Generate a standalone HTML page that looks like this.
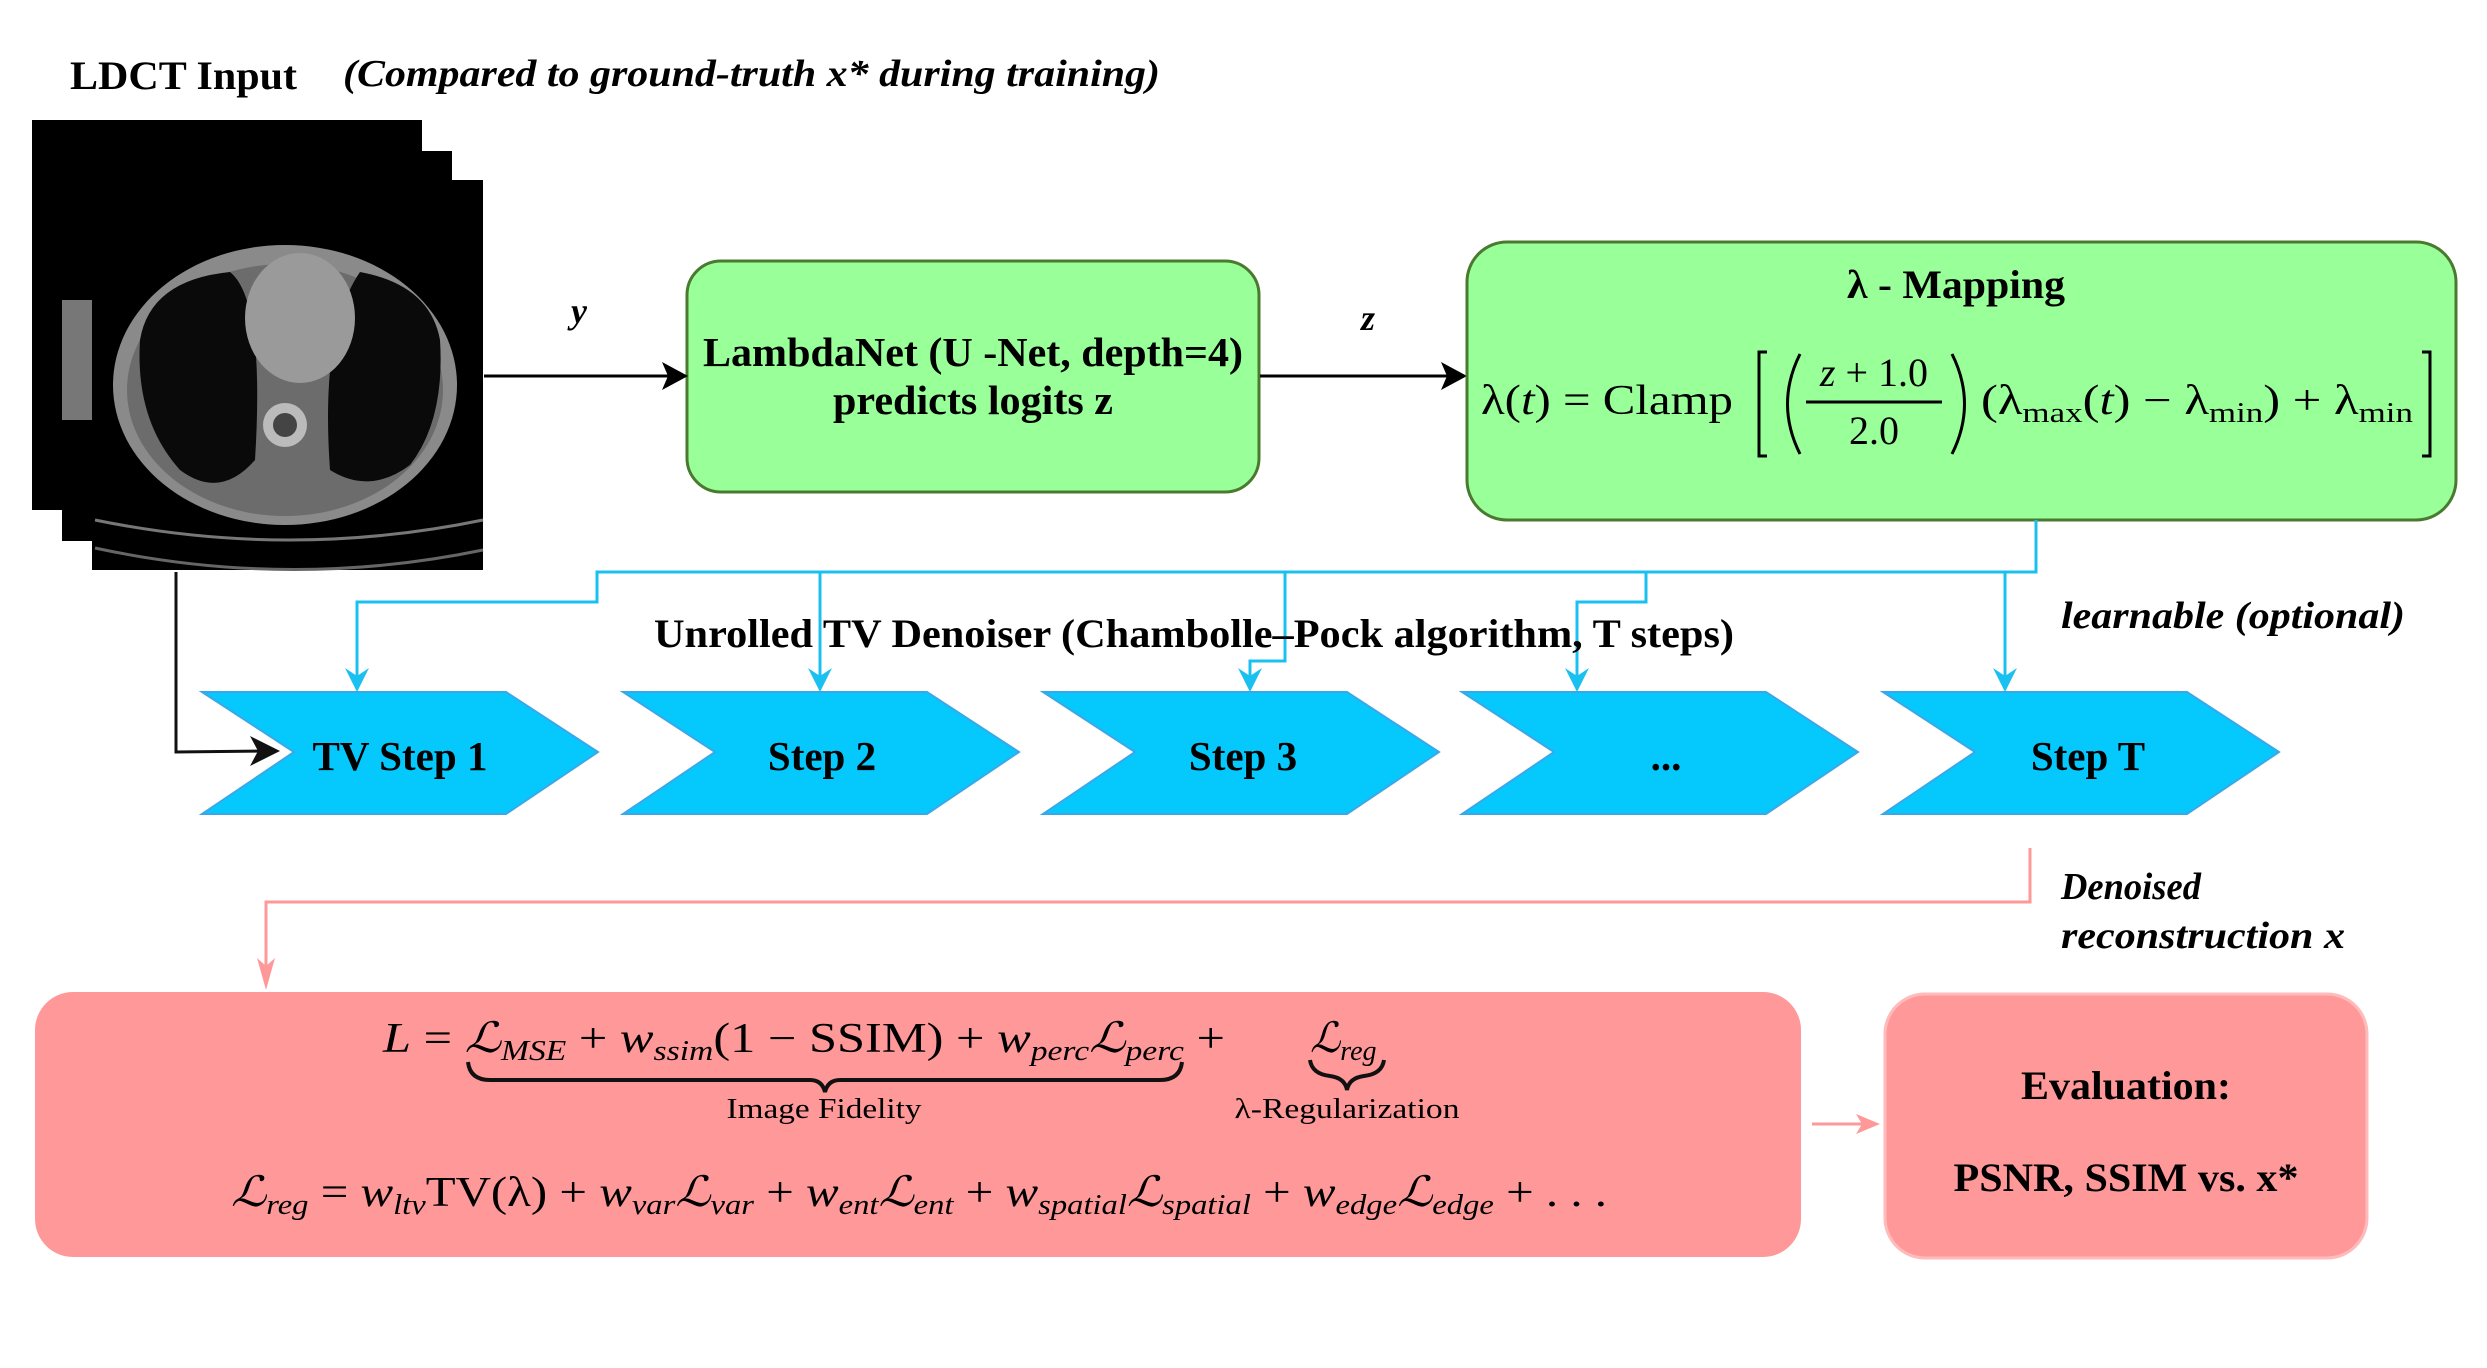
<!DOCTYPE html>
<html><head><meta charset="utf-8"><style>
html,body{margin:0;padding:0;background:#fff;}
svg{display:block;}
text{font-family:"Liberation Serif",serif;}
</style></head><body>
<svg width="2487" height="1368" viewBox="0 0 2487 1368" xmlns="http://www.w3.org/2000/svg">
<!-- headings -->
<text x="70" y="89" font-size="40" font-weight="bold" textLength="227" lengthAdjust="spacingAndGlyphs">LDCT Input</text>
<text x="343" y="86" font-size="38" font-weight="bold" font-style="italic" textLength="817" lengthAdjust="spacingAndGlyphs">(Compared to ground-truth x* during training)</text>

<!-- CT stack -->
<g>
<rect x="32" y="120" width="390" height="390" fill="#000"/>
<rect x="62" y="151" width="390" height="390" fill="#000"/>
<rect x="62" y="300" width="30" height="120" fill="#777"/>
<rect x="92" y="180" width="391" height="390" fill="#000"/>
<ellipse cx="285" cy="385" rx="172" ry="140" fill="#8a8a8a"/>
<ellipse cx="285" cy="390" rx="158" ry="126" fill="#6c6c6c"/>
<path d="M140,340 Q150,280 230,272 Q265,300 255,460 Q220,500 180,470 Q135,420 140,340 Z" fill="#0a0a0a"/>
<path d="M440,340 Q430,285 360,272 Q320,330 330,470 Q370,495 410,465 Q445,420 440,340 Z" fill="#0a0a0a"/>
<ellipse cx="300" cy="318" rx="55" ry="65" fill="#9a9a9a"/>
<circle cx="285" cy="425" r="22" fill="#bbb"/>
<circle cx="285" cy="425" r="12" fill="#444"/>
<path d="M95,520 Q290,560 483,520" stroke="#777" stroke-width="3" fill="none"/>
<path d="M95,548 Q290,590 483,550" stroke="#666" stroke-width="3" fill="none"/>
</g>

<!-- LambdaNet -->
<rect x="687" y="261" width="572" height="231" rx="34" fill="#99FF99" stroke="#4a7a30" stroke-width="3"/>
<text x="973" y="366" font-size="41" font-weight="bold" text-anchor="middle" textLength="540" lengthAdjust="spacingAndGlyphs">LambdaNet (U -Net, depth=4)</text>
<text x="973" y="414" font-size="41" font-weight="bold" text-anchor="middle" textLength="280" lengthAdjust="spacingAndGlyphs">predicts logits z</text>
<line x1="484" y1="376" x2="676" y2="376" stroke="#000" stroke-width="3"/>
<path d="M662,362 L688,376 L662,390 L668,376 Z" fill="#000"/>
<text x="579" y="323" font-size="36" font-style="italic" font-weight="bold" text-anchor="middle">y</text>
<line x1="1260" y1="376" x2="1455" y2="376" stroke="#000" stroke-width="3"/>
<path d="M1441,362 L1467,376 L1441,390 L1447,376 Z" fill="#000"/>
<text x="1368" y="330" font-size="36" font-style="italic" font-weight="bold" text-anchor="middle">z</text>

<!-- lambda mapping -->
<rect x="1467" y="242" width="989" height="278" rx="40" fill="#99FF99" stroke="#4a7a30" stroke-width="3"/>
<text x="1956" y="298" font-size="40" font-weight="bold" text-anchor="middle" textLength="218" lengthAdjust="spacingAndGlyphs">λ - Mapping</text>
<text x="1481" y="414" font-size="42" textLength="252" lengthAdjust="spacingAndGlyphs">λ(<tspan font-style="italic">t</tspan>) = Clamp</text>
<path d="M1767,352 L1759,352 L1759,456 L1767,456" stroke="#000" stroke-width="3" fill="none"/>
<path d="M1800,354 Q1775,404 1800,454" stroke="#000" stroke-width="3" fill="none"/>
<text x="1874" y="386" font-size="40" text-anchor="middle"><tspan font-style="italic">z</tspan> + 1.0</text>
<line x1="1806" y1="402" x2="1942" y2="402" stroke="#000" stroke-width="3"/>
<text x="1874" y="444" font-size="40" text-anchor="middle">2.0</text>
<path d="M1952,354 Q1977,404 1952,454" stroke="#000" stroke-width="3" fill="none"/>
<text x="1981" y="414" font-size="42" textLength="432" lengthAdjust="spacingAndGlyphs">(λ<tspan font-size="29" dy="8">max</tspan><tspan dy="-8">(</tspan><tspan font-style="italic">t</tspan>) − λ<tspan font-size="29" dy="8">min</tspan><tspan dy="-8">) + λ</tspan><tspan font-size="29" dy="8">min</tspan></text>
<path d="M2422,352 L2430,352 L2430,456 L2422,456" stroke="#000" stroke-width="3" fill="none"/>

<!-- blue connectors -->
<g stroke="#1AC0F0" stroke-width="3" fill="none">
<polyline points="2036,520 2036,572 597,572 597,602 357,602 357,684"/>
<polyline points="820,572 820,684"/>
<polyline points="1285,572 1285,661 1250,661 1250,684"/>
<polyline points="1646,572 1646,602 1577,602 1577,684"/>
<polyline points="2005,572 2005,684"/>
</g>
<g fill="#1AC0F0">
<path d="M345,668 L357,692 L369,668 L357,676 Z"/>
<path d="M808,668 L820,692 L832,668 L820,676 Z"/>
<path d="M1238,668 L1250,692 L1262,668 L1250,676 Z"/>
<path d="M1565,668 L1577,692 L1589,668 L1577,676 Z"/>
<path d="M1993,668 L2005,692 L2017,668 L2005,676 Z"/>
</g>
<text x="654" y="647" font-size="40" font-weight="bold" textLength="1080" lengthAdjust="spacingAndGlyphs">Unrolled TV Denoiser (Chambolle–Pock algorithm, T steps)</text>
<text x="2071" y="628" font-size="38" font-weight="bold" font-style="italic" textLength="344" lengthAdjust="spacingAndGlyphs" transform="translate(-10,0)">learnable (optional)</text>

<!-- chevrons -->
<g fill="#05C8FC" stroke="#3AA8E8" stroke-width="2">
<path d="M202,692 L506,692 L598,752 L506,814 L202,814 L294,752 Z"/>
<path d="M623,692 L927,692 L1019,752 L927,814 L623,814 L715,752 Z"/>
<path d="M1043,692 L1347,692 L1439,752 L1347,814 L1043,814 L1135,752 Z"/>
<path d="M1462,692 L1766,692 L1858,752 L1766,814 L1462,814 L1554,752 Z"/>
<path d="M1883,692 L2187,692 L2279,752 L2187,814 L1883,814 L1975,752 Z"/>
</g>
<g font-size="41" font-weight="bold" text-anchor="middle">
<text x="400" y="770" textLength="175" lengthAdjust="spacingAndGlyphs">TV Step 1</text>
<text x="822" y="770">Step 2</text>
<text x="1243" y="770">Step 3</text>
<text x="1666" y="770">...</text>
<text x="2088" y="770">Step T</text>
</g>
<polyline points="176,572 176,752 270,751" stroke="#111" stroke-width="3" fill="none"/>
<path d="M250,736 L280,751 L250,766 L258,751 Z" fill="#111"/>

<!-- pink connectors -->
<polyline points="2030,848 2030,902 266,902 266,980" stroke="#F99" stroke-width="3" fill="none"/>
<path d="M257,958 L266,990 L275,958 L266,966 Z" fill="#F99"/>
<text x="2061" y="899" font-size="38" font-weight="bold" font-style="italic" textLength="140" lengthAdjust="spacingAndGlyphs">Denoised</text>
<text x="2061" y="948" font-size="38" font-weight="bold" font-style="italic" textLength="284" lengthAdjust="spacingAndGlyphs">reconstruction x</text>

<!-- loss box -->
<rect x="35" y="992" width="1766" height="265" rx="38" fill="#FF9999"/>
<text x="383" y="1052" font-size="42" textLength="842" lengthAdjust="spacingAndGlyphs"><tspan font-style="italic">L</tspan> = <tspan font-style="italic">ℒ</tspan><tspan font-size="28" font-style="italic" dy="8">MSE</tspan><tspan dy="-8"> + </tspan><tspan font-style="italic">w</tspan><tspan font-size="28" font-style="italic" dy="8">ssim</tspan><tspan dy="-8">(1 − SSIM) + </tspan><tspan font-style="italic">w</tspan><tspan font-size="28" font-style="italic" dy="8">perc</tspan><tspan font-style="italic" dy="-8">ℒ</tspan><tspan font-size="28" font-style="italic" dy="8">perc</tspan><tspan dy="-8"> +</tspan></text>
<text x="1310" y="1052" font-size="42" font-style="italic">ℒ<tspan font-size="28" dy="8">reg</tspan></text>
<path d="M468,1062 Q470,1080 490,1080 L810,1080 Q822,1080 825,1092 Q828,1080 840,1080 L1160,1080 Q1180,1080 1182,1062" stroke="#111" stroke-width="4" fill="none"/>
<path d="M1310,1060 Q1312,1074 1330,1076 Q1345,1078 1347,1090 Q1349,1078 1364,1076 Q1382,1074 1384,1060" stroke="#111" stroke-width="4" fill="none"/>
<text x="824" y="1118" font-size="29" text-anchor="middle" textLength="195" lengthAdjust="spacingAndGlyphs">Image Fidelity</text>
<text x="1347" y="1118" font-size="29" text-anchor="middle" textLength="225" lengthAdjust="spacingAndGlyphs">λ-Regularization</text>
<text x="231" y="1206" font-size="42" textLength="1376" lengthAdjust="spacingAndGlyphs"><tspan font-style="italic">ℒ</tspan><tspan font-size="28" font-style="italic" dy="8">reg</tspan><tspan dy="-8"> = </tspan><tspan font-style="italic">w</tspan><tspan font-size="28" font-style="italic" dy="8">ltv</tspan><tspan dy="-8">TV(λ) + </tspan><tspan font-style="italic">w</tspan><tspan font-size="28" font-style="italic" dy="8">var</tspan><tspan font-style="italic" dy="-8">ℒ</tspan><tspan font-size="28" font-style="italic" dy="8">var</tspan><tspan dy="-8"> + </tspan><tspan font-style="italic">w</tspan><tspan font-size="28" font-style="italic" dy="8">ent</tspan><tspan font-style="italic" dy="-8">ℒ</tspan><tspan font-size="28" font-style="italic" dy="8">ent</tspan><tspan dy="-8"> + </tspan><tspan font-style="italic">w</tspan><tspan font-size="28" font-style="italic" dy="8">spatial</tspan><tspan font-style="italic" dy="-8">ℒ</tspan><tspan font-size="28" font-style="italic" dy="8">spatial</tspan><tspan dy="-8"> + </tspan><tspan font-style="italic">w</tspan><tspan font-size="28" font-style="italic" dy="8">edge</tspan><tspan font-style="italic" dy="-8">ℒ</tspan><tspan font-size="28" font-style="italic" dy="8">edge</tspan><tspan dy="-8"> + . . .</tspan></text>

<!-- arrow to eval -->
<line x1="1812" y1="1124" x2="1870" y2="1124" stroke="#F99" stroke-width="3"/>
<path d="M1856,1114 L1880,1124 L1856,1134 L1862,1124 Z" fill="#F99"/>

<!-- eval box -->
<rect x="1885" y="994" width="482" height="264" rx="40" fill="#FF9999" stroke="#FFBBBB" stroke-width="3"/>
<text x="2126" y="1099" font-size="40" font-weight="bold" text-anchor="middle" textLength="210" lengthAdjust="spacingAndGlyphs">Evaluation:</text>
<text x="2126" y="1191" font-size="40" font-weight="bold" text-anchor="middle" textLength="345" lengthAdjust="spacingAndGlyphs">PSNR, SSIM vs. x*</text>
</svg>
</body></html>
